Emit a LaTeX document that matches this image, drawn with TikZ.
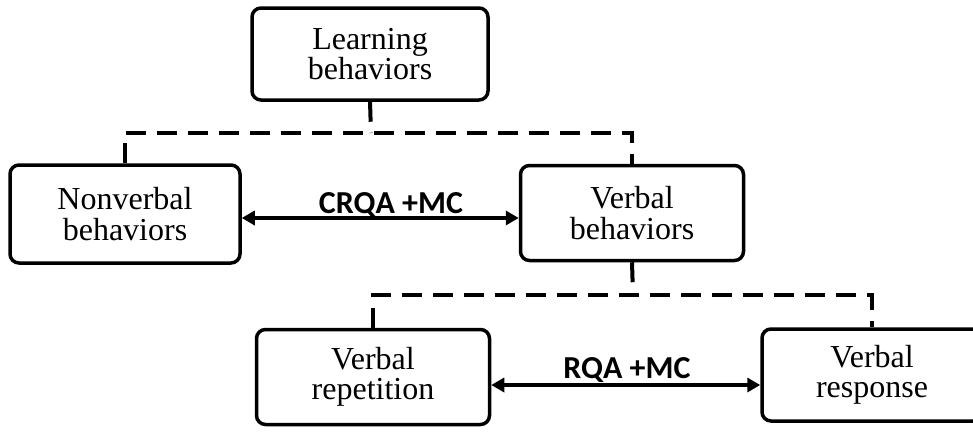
\documentclass[tikz,border=0pt]{standalone}
\usepackage{fontspec}
\setmainfont{Liberation Serif}
\newfontfamily\lblfont{Carlito}
\usetikzlibrary{arrows.meta,calc}
\begin{document}
\begin{tikzpicture}[x=1pt,y=-1pt,
  box/.style={draw,line width=3.5pt,rounded corners=9pt,inner sep=0pt,align=center,
    font=\fontsize{32}{30.5}\selectfont},
  dashline/.style={line width=4pt,dash pattern=on 20pt off 11pt},
  biarrow/.style={line width=4pt,{Triangle[length=13pt,width=14pt]}-{Triangle[length=13pt,width=14pt]}},
  lbl/.style={font=\lblfont\bfseries\fontsize{32}{36}\selectfont,anchor=base,inner sep=0pt}]
\useasboundingbox (0,0) rectangle (973,431);
\node[box,minimum width=236pt,minimum height=92pt] (L) at (370,54) {Learning\\behaviors};
\node[box,minimum width=230pt,minimum height=98pt] (N) at (125,214) {Nonverbal\\behaviors};
\node[box,minimum width=223pt,minimum height=95pt] (V) at (632,213) {Verbal\\behaviors};
\node[box,minimum width=233pt,minimum height=95pt] (R) at (373,377) {Verbal\\repetition};
\node[box,minimum width=220pt,minimum height=92pt] (S) at (872,375) {Verbal\\response};
\coordinate (b1) at (371,133);
\coordinate (b2) at (633,295);
\draw[dashline] (L.south) -- (b1);
\draw[dashline] (N.north) |- (b1) -| (V.north);
\draw[dashline] (V.south) -- (b2);
\draw[dashline] (R.north) |- (b2) -| (S.north);
\draw[biarrow] ($(N.east)+(0,4)$) -- ($(V.west)+(0,5)$);
\draw[biarrow] ($(R.east)+(0,8)$) -- ($(S.west)+(0,10)$);
\node[lbl] (t1) at (391,213) {CRQA +MC};
\node[lbl] (t2) at (627,378) {RQA +MC};
\end{tikzpicture}
\end{document}
